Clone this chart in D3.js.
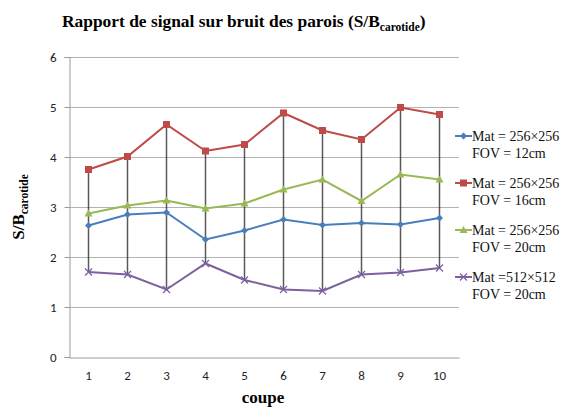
<!DOCTYPE html>
<html><head><meta charset="utf-8">
<script src="https://cdn.jsdelivr.net/npm/d3@7"></script>
<style>body{margin:0;background:#fff}</style>
</head><body>
<svg id="chart" width="564" height="407"></svg>
<script>
const categories = ["1","2","3","4","5","6","7","8","9","10"];
const yTicks = [0,1,2,3,4,5,6];
const seriesNames = [
  ["Mat = 256\u00d7256","FOV = 12cm"],
  ["Mat = 256\u00d7256","FOV = 16cm"],
  ["Mat = 256\u00d7256","FOV = 20cm"],
  ["Mat =512\u00d7512","FOV = 20cm"]
];
const fov12 = [2.63,2.85,2.89,2.35,2.53,2.75,2.64,2.68,2.65,2.78];
const fov16 = [3.75,4.01,4.65,4.12,4.25,4.88,4.53,4.35,4.99,4.85];
const fov20 = [2.87,3.03,3.13,2.97,3.07,3.35,3.55,3.12,3.65,3.55];
const mat512 = [1.70,1.65,1.35,1.87,1.54,1.35,1.32,1.65,1.69,1.78];
const colors = ["#4A7EBB","#BE4B48","#98B954","#7D60A0"];
const markers = ["diamond","square","triangle","x"];

const SERIF = "Liberation Serif";
const SANS = "Carlito";

const series = [fov12,fov16,fov20,mat512].map((v,i)=>({name:seriesNames[i],values:v,color:colors[i],marker:markers[i]}));

const svg = d3.select("#chart");
const plotLeft = 69, plotRight = 459, plotTop = 57, plotBottom = 357;
const x = d3.scaleBand().domain(categories).range([plotLeft,plotRight]);
const y = d3.scaleLinear().domain([0,6]).range([plotBottom,plotTop]);
const cx = c => x(c) + x.bandwidth()/2;

// title
const title = svg.append("text").attr("x",62).attr("y",27)
  .attr("font-family",SERIF).attr("font-weight","bold").attr("font-size",17.4);
title.append("tspan").text("Rapport de signal sur bruit des parois (S/B");
title.append("tspan").attr("font-size",11.5).attr("dy",4).text("carotide");
title.append("tspan").attr("dy",-4).text(")");

// gridlines
svg.append("g").selectAll("line").data(yTicks.filter(t=>t>0)).join("line")
  .attr("x1",plotLeft).attr("x2",plotRight).attr("y1",d=>y(d)+0.5).attr("y2",d=>y(d)+0.5)
  .attr("stroke","#b3b3b3").attr("stroke-width",1);

// y axis
const yAxis = svg.append("g").attr("transform",`translate(${plotLeft+0.5},0)`)
  .call(d3.axisLeft(y).tickValues(yTicks).tickSize(5).tickPadding(8).tickFormat(d3.format("d")));
yAxis.attr("font-family",SANS).attr("font-size",13);
yAxis.select(".domain").attr("stroke","#9a9a9a");
yAxis.selectAll(".tick line").attr("stroke","#9a9a9a");
yAxis.selectAll("text").attr("fill","#222");

// x axis
const xAxis = svg.append("g").attr("transform",`translate(0,${plotBottom+0.5})`)
  .call(d3.axisBottom(x).tickSize(0).tickPadding(13));
xAxis.attr("font-family",SANS).attr("font-size",13);
xAxis.select(".domain").attr("stroke","#9a9a9a");
xAxis.selectAll("text").attr("fill","#222");

// axis titles
svg.append("text").attr("x",263).attr("y",403).attr("text-anchor","middle")
  .attr("font-family",SERIF).attr("font-weight","bold").attr("font-size",17).text("coupe");
const yt = svg.append("text").attr("transform",`translate(24,${(plotTop+plotBottom)/2}) rotate(-90)`).attr("text-anchor","middle")
  .attr("font-family",SERIF).attr("font-weight","bold").attr("font-size",17);
yt.append("tspan").text("S/B");
yt.append("tspan").attr("font-size",11.5).attr("dy",4).text("carotide");

// high-low lines
svg.append("g").selectAll("line").data(categories).join("line")
  .attr("x1",d=>cx(d)).attr("x2",d=>cx(d))
  .attr("y1",(d,i)=>y(d3.max(series,s=>s.values[i])))
  .attr("y2",(d,i)=>y(d3.min(series,s=>s.values[i])))
  .attr("stroke","#222").attr("stroke-opacity",0.75).attr("stroke-width",1.5);

function drawMarker(g,type,color,px,py){
  if(type==="diamond"){
    g.append("path").attr("d",`M${px},${py-3.5}L${px+3.5},${py}L${px},${py+3.5}L${px-3.5},${py}Z`).attr("fill",color);
  } else if(type==="square"){
    g.append("rect").attr("x",px-3.5).attr("y",py-3.5).attr("width",7).attr("height",7).attr("fill",color);
  } else if(type==="triangle"){
    g.append("path").attr("d",`M${px},${py-4}L${px+4},${py+3}L${px-4},${py+3}Z`).attr("fill",color);
  } else {
    g.append("path").attr("d",`M${px-3.5},${py-3.5}L${px+3.5},${py+3.5}M${px-3.5},${py+3.5}L${px+3.5},${py-3.5}`)
      .attr("stroke",color).attr("stroke-width",1.2).attr("fill","none");
  }
}

const line = d3.line().x((d,i)=>cx(categories[i])).y(d=>y(d));
series.forEach(s=>{
  const g = svg.append("g");
  g.append("path").attr("d",line(s.values)).attr("fill","none").attr("stroke",s.color).attr("stroke-width",2);
  s.values.forEach((v,i)=>drawMarker(g,s.marker,s.color,cx(categories[i]),y(v)));
});

// legend
const legY = [136,183,230,277];
series.forEach((s,i)=>{
  const g = svg.append("g");
  const ly = legY[i];
  g.append("line").attr("x1",455).attr("x2",472).attr("y1",ly).attr("y2",ly).attr("stroke",s.color).attr("stroke-width",2);
  drawMarker(g,s.marker,s.color,463.5,ly);
  const t = g.append("text").attr("font-family",SERIF).attr("font-size",14).attr("fill","#111");
  t.append("tspan").attr("x",472).attr("y",ly+4.5).text(s.name[0]);
  t.append("tspan").attr("x",472).attr("y",ly+22).text(s.name[1]);
});
</script>
</body></html>
